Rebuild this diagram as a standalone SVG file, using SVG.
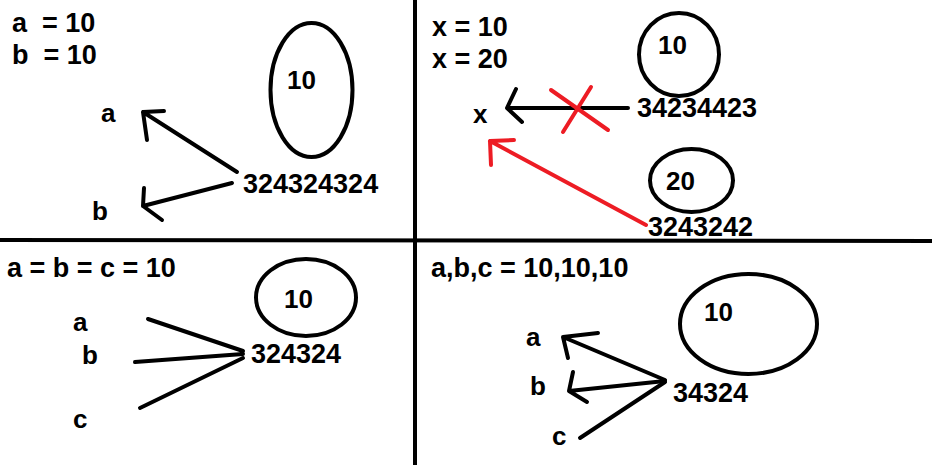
<svg xmlns="http://www.w3.org/2000/svg" width="932" height="465" viewBox="0 0 932 465">
<style>
text{font-family:"Liberation Sans",Arial,sans-serif;font-weight:bold;fill:#000}
.h{font-size:27px}
.v{font-size:26px}
.n{font-size:27px}
.l{font-size:26px}
.ov{fill:none;stroke:#000;stroke-width:4}
.k{fill:none;stroke:#000;stroke-width:4;stroke-linecap:round;stroke-linejoin:round}
.r{fill:none;stroke:#ed1c24;stroke-width:4;stroke-linecap:round;stroke-linejoin:round}
</style>
<rect width="932" height="465" fill="#fff"/>
<g id="dividers">
<line x1="415" y1="0" x2="415" y2="465" stroke="#000" stroke-width="4"/>
<line x1="0" y1="240" x2="932" y2="241" stroke="#000" stroke-width="4"/>
</g>
<g id="headings">
<text class="h" x="12" y="32" xml:space="preserve">a  = 10</text>
<text class="h" x="12" y="64" xml:space="preserve">b  = 10</text>
<text class="h" x="432" y="36">x = 10</text>
<text class="h" x="432" y="68">x = 20</text>
<text class="h" x="7" y="277">a = b = c = 10</text>
<text class="h" x="431" y="277">a,b,c = 10,10,10</text>
</g>
<g id="connectors">
<path class="k" d="M237,172 L143,112 M164,111 L143,112 L147,140"/>
<path class="k" d="M232,183 L143,206 M144,188 L143,206 L162,220"/>
<path class="k" d="M628,108 L507,108 M516,89 L507,108 L522,122"/>
<path class="r" d="M551,90 L608,130 M591,87 L563,132"/>
<path class="r" d="M646,225 L490,141 M514,140 L490,141 L491,165"/>
<path class="k" d="M148,319 L243,351 M135,362 L243,354 M140,408 L243,358"/>
<path class="k" d="M665,380 L563,337 M598,333 L563,337 L568,358"/>
<path class="k" d="M665,381 L569,391 M573,372 L569,391 L587,402"/>
<path class="k" d="M665,382 L580,438"/>
</g>
<g id="tl-obj"><ellipse class="ov" cx="311.5" cy="90" rx="41" ry="67"/><text class="v" x="287" y="89">10</text></g>
<g id="tl-addr"><text class="n" x="243" y="193">324324324</text></g>
<g id="tl-a"><text class="l" x="101" y="122">a</text></g>
<g id="tl-b"><text class="l" x="92" y="220">b</text></g>
<g id="tr-obj10"><ellipse class="ov" cx="679" cy="54.5" rx="40" ry="41.5"/><text class="v" x="658" y="54">10</text></g>
<g id="tr-addr1"><text class="n" x="637" y="117">34234423</text></g>
<g id="tr-obj20"><ellipse class="ov" cx="691.5" cy="180.5" rx="41.5" ry="31.5"/><text class="v" x="666" y="190">20</text></g>
<g id="tr-addr2"><text class="n" x="648" y="236">3243242</text></g>
<g id="tr-x"><text class="l" x="473" y="123">x</text></g>
<g id="bl-obj"><ellipse class="ov" cx="306" cy="297.5" rx="50" ry="38.5"/><text class="v" x="284" y="308">10</text></g>
<g id="bl-addr"><text class="n" x="251" y="363">324324</text></g>
<g id="bl-a"><text class="l" x="73" y="331">a</text></g>
<g id="bl-b"><text class="l" x="82" y="364">b</text></g>
<g id="bl-c"><text class="l" x="73" y="428">c</text></g>
<g id="br-obj"><ellipse class="ov" cx="748.5" cy="324" rx="68.5" ry="50"/><text class="v" x="704" y="321">10</text></g>
<g id="br-addr"><text class="n" x="673" y="402">34324</text></g>
<g id="br-a"><text class="l" x="526" y="346">a</text></g>
<g id="br-b"><text class="l" x="530" y="395">b</text></g>
<g id="br-c"><text class="l" x="552" y="445">c</text></g>
</svg>
